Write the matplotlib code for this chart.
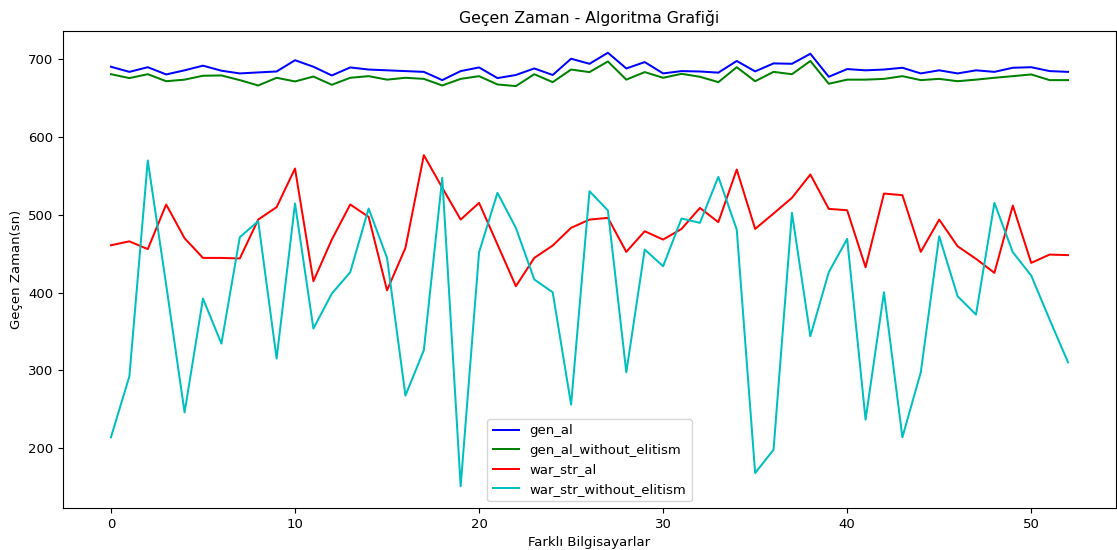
import matplotlib
matplotlib.use('Agg')
import matplotlib.pyplot as plt

gen_al = [690.6, 684, 690, 680.7, 686, 692, 685.5, 682, 683.3, 684.5,
          699, 690.6, 679.4, 689.7, 687, 686, 685, 684, 673.4, 685,
          689.7, 676, 680, 688.4, 680, 700.9, 694.4, 708.6, 688.4, 696.6,
          682, 685, 684.5, 683, 698, 684.6, 694.9, 694.4, 707.3, 677.7,
          687.6, 686, 687, 689.3, 682, 686, 682, 686, 684, 689.3,
          690, 685, 684]

gen_al_without_elitism = [681, 676, 681, 672, 674, 679, 679.4, 673.4, 666.5, 676.4,
                          671.7, 678, 667.4, 676.4, 678.5, 674, 676.4, 675, 666.5, 675,
                          678.5, 667.8, 665.7, 681, 670.8, 687, 683.7, 697.4, 674, 683.7,
                          676.4, 681.5, 677.7, 670.8, 690, 672, 684, 681, 698, 668.7,
                          674, 674, 675, 678.5, 673.4, 675, 672, 674, 676.4, 678.5,
                          680.7, 673.4, 673.4]

war_str_al = [461, 466, 456, 513.4, 470, 444.7, 444.7, 444, 494, 510,
              559.7, 414.7, 468.3, 513.4, 497.5, 403, 457.6, 576.9, 535, 494,
              515.5, 462, 408.3, 444.7, 460.6, 483.4, 494, 496.2, 452.5, 479,
              468.3, 482, 509, 490.7, 558.4, 482, 501.8, 522, 552, 507.8,
              506, 432.7, 527.5, 525.4, 452.5, 494, 459.7, 443.5, 425.5, 512,
              438.3, 449, 448.3]

war_str_without_elitism = [214, 292.4, 570, 410, 246, 392.4, 334.5, 471.3, 492, 315.2,
                           514.7, 353.8, 398.8, 426.3, 508.2, 444.7, 267.6, 326, 547.7, 151,
                           452, 528.4, 483.4, 417, 400.5, 256, 530.5, 505.7, 297.6, 455.5,
                           434, 495.4, 489.8, 549, 481.2, 168, 198, 502.7, 344, 426.3,
                           469.2, 236.7, 400.5, 214, 297.6, 472.6, 395.4, 371.8, 515.5, 452,
                           422, 365.4, 310.4]

x = list(range(len(gen_al)))

plt.rcParams['font.size'] = 9.5
plt.rcParams['axes.titlesize'] = 11.3
plt.rcParams['lines.linewidth'] = 1.45

fig = plt.figure(figsize=(11.17, 5.5), dpi=100)
plt.subplots_adjust(left=0.0565, right=0.999, top=0.9435, bottom=0.0765)

plt.plot(x, gen_al, color='b', label='gen_al')
plt.plot(x, gen_al_without_elitism, color='g', label='gen_al_without_elitism')
plt.plot(x, war_str_al, color='r', label='war_str_al')
plt.plot(x, war_str_without_elitism, color='c', label='war_str_without_elitism')

plt.title('Geçen Zaman - Algoritma Grafiği')
plt.xlabel('Farklı Bilgisayarlar')
plt.ylabel('Geçen Zaman(sn)')
plt.legend(loc='lower center')

plt.savefig('out.png')
